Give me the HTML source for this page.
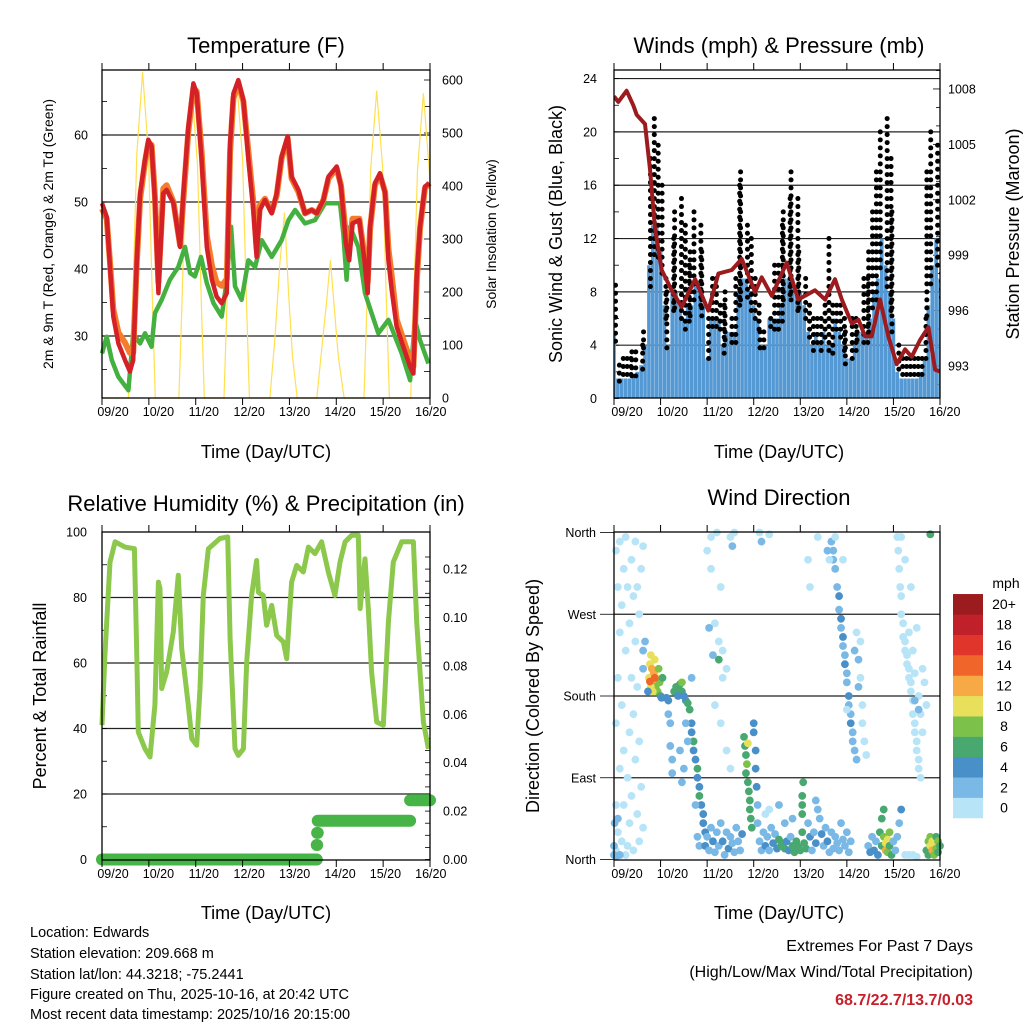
<!DOCTYPE html>
<html><head><meta charset="utf-8"><style>
html,body{margin:0;padding:0;background:#fff;}
svg{display:block;font-family:"Liberation Sans",Arial,sans-serif;}
</style></head><body>
<svg id="c" width="1024" height="1024" viewBox="0 0 1024 1024" xmlns="http://www.w3.org/2000/svg">
<rect width="1024" height="1024" fill="#fff"/>
<g id="p1"></g>
<g id="p2"></g>
<g id="p3"></g>
<g id="p4"></g>
<g id="txt">
<text x="266" y="53" font-size="22" text-anchor="middle">Temperature (F)</text>
<text x="779" y="53" font-size="22" text-anchor="middle">Winds (mph) &amp; Pressure (mb)</text>
<text x="266" y="511" font-size="22" text-anchor="middle">Relative Humidity (%) &amp; Precipitation (in)</text>
<text x="779" y="505" font-size="22" text-anchor="middle">Wind Direction</text>
<text x="266" y="458" font-size="18" text-anchor="middle">Time (Day/UTC)</text>
<text x="779" y="458" font-size="18" text-anchor="middle">Time (Day/UTC)</text>
<text x="266" y="919" font-size="18" text-anchor="middle">Time (Day/UTC)</text>
<text x="779" y="919" font-size="18" text-anchor="middle">Time (Day/UTC)</text>
<text transform="translate(53,234) rotate(-90)" font-size="14" text-anchor="middle">2m &amp; 9m T (Red, Orange) &amp; 2m Td (Green)</text>
<text transform="translate(496,234) rotate(-90)" font-size="14" text-anchor="middle">Solar Insolation (Yellow)</text>
<text transform="translate(562,234) rotate(-90)" font-size="18" text-anchor="middle">Sonic Wind &amp; Gust (Blue, Black)</text>
<text transform="translate(1019,234) rotate(-90)" font-size="18" text-anchor="middle">Station Pressure (Maroon)</text>
<text transform="translate(46,696) rotate(-90)" font-size="18" text-anchor="middle">Percent &amp; Total Rainfall</text>
<text transform="translate(539,696) rotate(-90)" font-size="18" text-anchor="middle">Direction (Colored By Speed)</text>
<text x="30" y="937" font-size="14.5">Location: Edwards</text>
<text x="30" y="958" font-size="14.5">Station elevation: 209.668 m</text>
<text x="30" y="979" font-size="14.5">Station lat/lon: 44.3218; -75.2441</text>
<text x="30" y="999" font-size="14.5">Figure created on Thu, 2025-10-16, at 20:42 UTC</text>
<text x="30" y="1019" font-size="14.5">Most recent data timestamp: 2025/10/16 20:15:00</text>
<text x="973" y="951" font-size="16" text-anchor="end">Extremes For Past 7 Days</text>
<text x="973" y="977" font-size="16" text-anchor="end">(High/Low/Max Wind/Total Precipitation)</text>
<text x="973" y="1005" font-size="16" font-weight="bold" fill="#c8202a" text-anchor="end">68.7/22.7/13.7/0.03</text>
</g>
</svg>
<script>
// ---------- DATA ----------
const dayLabels = ["09/20","10/20","11/20","12/20","13/20","14/20","15/20","16/20"];
const tHours = [0,2.4,4.1,5.8,8.4,11.8,14.3,16,17.8,19.5,22,23.7,25.4,27.1,28.9,31.4,33.1,36.6,40,41.7,44.2,46.8,48.5,51,53.7,56.3,58.7,61.3,63.9,65.6,67.3,69.8,72.4,75,77.5,79.2,80.9,83.5,86.9,89.5,92,95.1,97.1,100.6,104,107.4,110,113.4,116,120.2,122.4,124.9,126.6,128.3,131.8,134.4,136.1,137.3,139.8,142.4,145,146.7,148.4,150.9,154.3,157.8,159.5,161.2,162.9,165.4,167.7];
const temp2m = [49.8,47.8,40.3,32.9,28.9,26.4,24.7,26.4,41.3,51.3,56.3,59.3,58.3,50.3,36.4,51.3,51.8,49.8,43.3,51.3,61.2,67.7,66.2,56.3,43.3,38.4,35.9,34.9,36.4,58.8,66.2,68.2,65.2,56.3,48.8,41.8,48.8,50.3,48.3,51.3,56.8,59.8,53.8,51.8,48.3,48.8,48.3,50.3,53.8,55.3,52.3,43.8,41.3,46.8,47.3,41.3,36.4,46.3,52.8,54.3,51.3,41.3,36.9,31.4,28.4,25.4,24.4,38.9,46.3,52.3,52.8];
const temp9m = [49,47.5,41,34,30.5,29,27.5,27.5,41,50.5,56,58.8,58.5,51,38,52,52.5,50,43.5,50.5,60.5,67,66.5,57.5,45,40.5,38,37.5,38.5,57.5,65.5,67.8,65,57.5,50,43,49.5,50.5,48.5,51,56.5,59.5,53.5,51.5,48.3,48.8,48.3,50.3,53.5,55,52.5,45,43,47.5,47.5,42,38,46,52.5,54,51.5,43,39,32.5,29.5,26.5,25.5,38,46,52,52.8];
const tdHours = [0,2.4,5,8.4,13.5,16,19.5,22,25.4,27.1,30.6,34.8,39.1,42.5,45.1,47.6,50.7,53.7,57.1,61.3,63.9,66.1,68.1,71.5,75,78.4,81.8,86.9,92,95.5,98.9,104,109.1,114.2,121.9,123.6,125.3,127,131.3,134.7,138.1,141.5,146.7,150.1,153.5,157.8,160.3,162.9,167.2];
const dewPoint = [27.4,29.9,26.4,23.9,21.9,30.4,28.9,30.4,28.4,33.4,35.4,38.4,40.3,43.3,39.4,38.9,41.8,37.9,34.9,32.9,38.4,46.3,37.4,35.4,41.3,40.3,44.3,41.8,44.3,47.3,48.8,46.8,47.3,49.8,49.8,45.3,38.4,46.3,43.3,36.4,33.4,30.4,32.4,29.9,27.4,23.4,32.4,29.4,25.9];
const solarHours = [0,13.5,15.8,17.8,20.8,23.8,25.8,27.3,39.4,40.9,42.9,45.9,48.9,50.9,52.4,62.5,64,66,69,72,74,75.5,86,88.5,91,93.5,95.5,97.5,100,110,112.5,115,117,119,121,124,134.2,135.7,137.7,140.7,143.7,145.7,147.2,158.1,159.6,161.6,164.6,167.6,168];
const solar = [0,0,185,460,615,460,185,0,0,175,440,590,440,175,0,0,180,450,600,450,180,0,0,110,250,350,200,80,0,0,90,180,260,170,80,0,0,175,435,580,435,175,0,0,170,430,575,430,400];
const windHours = [0,2,4,6,8,10,12,14,16,18,20,22,24,26,28,30,32,34,36,38,40,42,44,46,48,50,52,54,56,58,60,62,64,66,68,70,72,74,76,78,80,82,84,86,88,90,92,94,96,98,100,102,104,106,108,110,112,114,116,118,120,122,124,126,128,130,132,134,136,138,140,142,144,146,148,150,152,154,156,158,160,162,164,166,168];
const windSpeed = [5,1.5,1.5,1.5,1.5,1.8,2,2.5,4,10,13,13,11,7,4,8,8,7,6,7,7,9,8,7,3,6,6,6,4,5,5,5,8,9,9,8,7,6,4,4,6,6,6,7,9,9,9,8,8,7,5,4,5,4,5,4,4,6,5,4,3,3,4,5,5,5,6,8,9,12,10,8,6,2,1.5,1.5,1.5,1.5,1.5,2,3,7,10,12,9];
const windGust = [8.5,2.5,3,3,3,3.5,3.5,4,5,18,21,19,16,9,8,12,14,15,13,10,11,14,13,11,6,9,9,7,7,8,6,9,16,17,13,12,9,7,5,5,6,10,10,13,14,15,17,15,11,9,7,6,6,6,7,12,7,7,7,6,5,6,6,5,9,9,11,14,17,20,21,18,14,4,3,3,3,3,3,3,6,17,20,19,16];
const presHours = [0,2.2,6.5,10,11.7,16,18.6,21.1,24.6,29.7,34.9,41.8,48.6,53.8,60.7,65.8,72.7,76.1,81.3,89,95,103.6,108.8,113.9,117.4,122.5,126,129.4,132.8,137.1,141.4,145.7,150,153.4,157.7,162,165.5,168];
const pressure = [1007.6,1007.3,1007.9,1007.1,1006.6,1006.1,1003.6,1000.5,998.2,997.1,996.2,997.7,996.0,998.0,998.2,998.8,997.0,997.8,996.8,998.6,996.6,997.1,996.6,997.7,996.6,995.3,995.5,994.6,994.6,996.6,994.6,993.1,993.9,993.5,994.4,995.1,992.8,992.7];
const rhHours = [0,1.5,4.1,6.7,11.8,16.6,17.8,18.6,22,24.6,27.1,28.9,29.7,30.6,33.1,36.5,39.1,40.8,44.2,46,48.5,50.2,51.9,54.5,60.4,64.4,65.6,68.1,69.8,72.4,74.1,76.6,79.2,80.1,82.6,84.3,86.9,89.5,92.9,94.6,97.1,99.7,103.1,105.7,109.1,112.5,115.9,119.3,121.9,124.5,127.9,131.3,132.2,134.7,136.4,138.1,140.7,144.1,146.7,149.2,153.5,159.5,161.2,164.6,167.2];
const rh = [41,62.3,90.8,97,95.4,94.9,62.3,38.9,33.8,31.3,47.1,84.7,82.7,52.2,57.2,69.5,86.8,64.4,47.1,36.9,34.9,52.2,80.6,94.9,98,98.5,67.4,33.8,31.8,33.8,60.3,80.6,91.3,81.6,80.6,71.5,77.6,68.4,66.4,61.3,84.7,89.8,87.8,95.4,93.4,97,87.8,80.6,90.8,97,99,99,76.6,91.8,76.6,57.2,42,41,72.5,90.8,97,97,72.5,42,33.8];
const precipHours = [0,110,110.2,110.5,157.8,168];
const precipTotal = [0,0.006,0.011,0.016,0.0245];
const dirHour = [1,1,1,1,2,2,2,3,3,3,4,4,4,5,5,5,6,6,6,7,7,7,8,8,8,9,9,9,10,10,10,11,11,11,12,12,12,13,13,13,14,14,15,15,15,3,1,2,0,0,0.3,15,15,16,
18,18.5,19,19.5,20,20.5,21,21.5,22,22.5,23,23.5,19,20,21,18.5,24,25,17.5,24.5,
27,28,28,29,29,30,30,31,32,33,34,35,33,35,36,37,38,39,40,40,41,41,42,43,43,44,44,45,46,46,47,38,37,36,35,34,42,40,43,44,
48,50,53,55,50,52,54,56,58,56,52,55,58,60,49,51,54,60,62,61,
47,48,49,50,51,52,53,54,55,56,57,58,59,60,61,62,63,64,65,66,
67,67.5,68,68.5,68,69,69.5,70,70,70.5,71,72,72,73,73,73.5,74,74,69,
75,76,77,78,79,80,81,82,83,84,85,86,87,88,89,90,91,92,93,94,95,96,97,97,97,97.5,97,98,99,100,101,102,103,104,105,106,107,108,109,110,111,112,113,114,115,116,117,118,119,120,121,122,85,88,92,80,78,104,
112,113,113,114,115,116,116,117,117,118,118,119,119,120,120,121,121,122,122,123,123,124,125,126,126,127,127,128,128,129,130,124,125,114,111,110,120,118,
131,132,133,134,135,136,137,138,138,139,139,140,140,141,141,142,142,143,144,145,146,147,148,150,152,154,156,
146,146.5,147,147.5,148,148,149,149,150,150,151,151,152,152,153,153,154,154,155,155,156,156,157,157,158,152,154,155,157,158,159,156,153,150,148,155,157,159,160,161,
161,162,162,163,163,164,164,165,165,166,166,167,167,168,163,75,76,80,105,100,101];
const dirDeg = [10,60,150,340,300,200,30,100,250,350,20,280,170,120,320,60,5,230,355,90,300,15,140,260,40,330,200,70,10,290,160,240,110,350,50,300,190,20,270,130,320,80,210,35,345,5,3,45,5,15,40,210,230,240,
200,215,225,210,195,205,220,190,200,185,210,195,190,185,200,196,180,200,185,178,
178,175,160,150,125,110,95,185,190,188,193,185,180,195,180,175,172,165,150,140,130,120,110,100,90,80,70,60,50,40,30,130,150,100,85,120,60,200,25,15,
340,355,360,300,320,260,240,230,210,200,170,150,120,100,255,225,220,355,360,345,
15,25,10,35,20,8,30,15,40,20,5,30,12,25,18,8,35,20,10,28,
135,125,115,105,95,85,75,65,55,45,35,150,140,120,100,80,60,40,128,
20,10,30,15,25,10,35,18,28,12,22,15,18,12,20,10,25,15,8,20,14,10,30,50,70,85,60,18,12,40,25,10,30,18,55,45,28,15,35,20,8,30,12,25,18,10,40,22,15,30,8,20,60,40,45,55,50,65,
350,340,330,320,300,290,275,265,255,245,235,225,215,205,195,180,170,160,150,140,130,120,110,190,220,240,200,170,150,130,115,230,250,355,330,340,165,330,
15,8,25,10,20,5,30,15,45,55,25,18,10,22,8,30,15,5,20,10,25,40,55,5,5,5,3,
355,340,320,300,290,270,260,245,240,230,225,215,210,200,195,185,175,160,150,140,130,120,110,100,90,250,230,205,180,160,140,255,300,330,355,175,165,210,195,170,
10,20,5,15,25,10,20,5,18,12,25,8,20,15,358,360,350,358,355,330,300];
const dirSpeed = [1,1,1,1,1,1,1,0,1,0,1,1,1,1,0,1,1,1,1,1,0,1,1,1,1,1,1,1,1,1,1,1,1,1,1,1,1,1,1,1,1,1,1,1,1,2,3,2,3,3,3,3,3,3,
10,11,10,12,13,12,10,9,10,8,9,8,10,11,14,15,6,6,4,5,
4,4,3,3,3,2,2,6,6,6,6,7,5,8,4,5,6,6,5,4,6,5,4,6,5,4,6,4,5,4,4,3,3,3,3,3,2,2,3,3,
1,1,1,1,1,1,1,1,1,1,1,1,1,1,3,3,6,1,1,3,
4,3,3,2,4,2,3,3,2,4,2,3,4,2,3,3,3,3,2,4,
7,6,7,8,7,6,7,6,7,6,6,5,4,4,4,4,3,3,10,
3,2,3,4,2,3,3,4,2,5,6,6,7,6,5,4,3,6,7,7,6,6,7,7,6,6,7,7,6,3,4,3,3,5,3,3,4,3,3,4,3,3,3,2,3,2,3,2,3,2,2,2,3,3,3,1,1,3,
3,3,2,3,3,4,3,4,3,4,3,3,4,3,3,4,3,3,4,3,3,2,2,2,2,1,1,1,1,1,1,2,1,1,1,2,1,1,
3,4,3,4,3,5,6,6,7,6,9,11,12,10,9,8,7,6,3,3,2,3,4,1,1,1,1,
1,1,1,1,1,1,1,1,1,1,1,1,1,1,1,1,1,1,1,1,1,1,1,1,1,1,1,1,1,1,1,1,1,1,1,3,2,1,1,1,
6,8,7,10,9,12,11,9,10,8,7,7,9,6,6,1,3,1,1,1,1];
const speedLabels = ["0","2","4","6","8","10","12","14","16","18","20+"];
const speedColors = ["#b8e4f8","#7ab8e6","#4a90c8","#48a870","#7cc24a","#e8e05a","#f6a944","#f0662a","#e0352b","#c0202a","#9b1b1e"];

const NS="http://www.w3.org/2000/svg";
function mk(parent,tag,attrs){const e=document.createElementNS(NS,tag);for(const k in attrs)e.setAttribute(k,attrs[k]);parent.appendChild(e);return e;}
function panelX(x0,x1){return h=>x0+(x1-x0)*h/168;}
function axesFrame(g,x0,x1,y0,y1,labelX0,name){
  const r=mk(g,'rect',{x:x0,y:y0,width:x1-x0,height:y1-y0,fill:'none',stroke:'#000','stroke-width':1.3});
  
  
  for(let i=0;i<=7;i++){
    const x=x0+(x1-x0)*i/7;
    const t1=mk(g,'line',{x1:x,x2:x,y1:y0,y2:y0-7,stroke:'#000','stroke-width':1});
    
    
    const t2=mk(g,'line',{x1:x,x2:x,y1:y1,y2:y1+7,stroke:'#000','stroke-width':1});
    
    
    const lb=mk(g,'text',{x:labelX0+45.4*i,y:y1+18,'font-size':12.5,'text-anchor':'middle'});
    lb.textContent=dayLabels[i];
    
    
  }
}
function grid(g,x0,x1,y,name){
  const l=mk(g,'line',{x1:x0,x2:x1,y1:y,y2:y,stroke:'#222','stroke-width':1.2});
  
  
}
function yTick(g,x,y,len){const l=mk(g,'line',{x1:x,x2:x+len,y1:y,y2:y,stroke:'#000','stroke-width':0.8});
  
  }
function yLabel(g,x,y,txt,anchor){const t=mk(g,'text',{x:x,y:y+4.5,'font-size':12.5,'text-anchor':anchor});t.textContent=txt;
  
  }
function path(xs,ys){return xs.map((x,i)=>(i?'L':'M')+x.toFixed(1)+','+ys[i].toFixed(1)).join('');}

(function(){
  const g=document.getElementById('p1');const X=panelX(102,430);
  const Y=t=>336-(t-30)*6.7, YS=w=>398-w*0.53;
  [30,40,50,60].forEach(v=>{grid(g,102,430,Y(v),'temp-gridline');yLabel(g,88,Y(v),String(v),'end');});
  for(let v=25;v<=65;v+=5)yTick(g,102,Y(v),5);
  for(let v=0;v<=600;v+=50)yTick(g,430,YS(v),-6);
  for(let v=0;v<=600;v+=100)yLabel(g,442,YS(v),String(v),'start');
  const ys=mk(g,'path',{d:path(solarHours.map(X),solar.map(YS)),fill:'none',stroke:'#ffe050','stroke-width':1.2});
  
  
  const gd=mk(g,'path',{d:path(tdHours.map(X),dewPoint.map(Y)),fill:'none',stroke:'#44b040','stroke-width':4.5,'stroke-linejoin':'round'});
  
  
  const o=mk(g,'path',{d:path(tHours.map(X),temp9m.map(Y)),fill:'none',stroke:'#f47c2a','stroke-width':6,'stroke-linejoin':'round'});
  
  
  const r=mk(g,'path',{d:path(tHours.map(X),temp2m.map(Y)),fill:'none',stroke:'#d42027','stroke-width':4.5,'stroke-linejoin':'round'});
  
  
  axesFrame(g,102,430,70,398,113,'temp');
})();

(function(){
  const g=document.getElementById('p2');const X=panelX(614,940);
  const Y=w=>398.5-w*13.33, YP=p=>366-(p-993)*18.47;
  const cw=mk(g,'clipPath',{id:'cw'});mk(cw,'rect',{x:614,y:70,width:326,height:329});
  [4,8,12,16,20,24].forEach(v=>grid(g,614,940,Y(v),'wind-gridline'));
  for(let v=0;v<=24;v+=4)yLabel(g,597,Y(v),String(v),'end');
  for(let v=0;v<=24;v+=2)yTick(g,614,Y(v),5);
  for(let p=992;p<=1009;p++)yTick(g,940,YP(p),p%3===0?-7:-4);
  [993,996,999,1002,1005,1008].forEach(p=>yLabel(g,948,YP(p),String(p),'start'));
  const inner=mk(g,'g',{'clip-path':'url(#cw)'});
  
  
  windHours.forEach((h,i)=>{
    const b=mk(inner,'line',{x1:X(h),x2:X(h),y1:Y(0),y2:Y(windSpeed[i]),stroke:'#5499d4','stroke-width':3.6});
    
    
  });
  windHours.forEach((h,i)=>{
    const top=Y(windGust[i]), bot=Y(windSpeed[i]*0.8);
    for(let y=top;y<=bot;y+=8){
      const d=mk(inner,'circle',{cx:X(h)+((Math.round(y)%2)?1.5:-1.5),cy:y,r:2.5,fill:'#000'});
      
      
    }
  });
  const p=mk(inner,'path',{d:path(presHours.map(X),pressure.map(YP)),fill:'none',stroke:'#9b1b1e','stroke-width':4,'stroke-linejoin':'round'});
  
  
  axesFrame(g,614,940,70,398,627,'wind');
})();

(function(){
  const g=document.getElementById('p3');const X=panelX(102,430);
  const Y=v=>859.5-v*3.275, YR=p=>859.5-p*2420;
  [20,40,60,80].forEach(v=>grid(g,102,430,Y(v),'rh-gridline'));
  for(let v=0;v<=100;v+=20)yLabel(g,87,Y(v),String(v),'end');
  for(let v=0;v<=100;v+=10)yTick(g,102,Y(v),5);
  for(let v=0;v<=0.13;v+=0.005)yTick(g,430,YR(v),-5);
  for(let k=0;k<=6;k++)yLabel(g,443,YR(k*0.02),(k*0.02).toFixed(2),'start');
  const l=mk(g,'path',{d:path(rhHours.map(X),rh.map(Y)),fill:'none',stroke:'#8cc84b','stroke-width':5,'stroke-linejoin':'round'});
  
  
  precipTotal.forEach((v,i)=>{
    const s=mk(g,'line',{x1:X(precipHours[i]),x2:X(precipHours[i+1]),y1:YR(v),y2:YR(v),stroke:'#46b446','stroke-width':12,'stroke-linecap':'round'});
    
    
  });
  axesFrame(g,102,430,532,860,113,'rh');
})();

(function(){
  const g=document.getElementById('p4');const X=panelX(614,940);
  const Y=d=>859.5-d*327/360;
  const names=["North","East","South","West","North"];
  [90,180,270].forEach(v=>grid(g,614,940,Y(v),'dir-gridline'));
  names.forEach((n,i)=>{yLabel(g,596,Y(i*90),n,'end');yTick(g,600,Y(i*90),14);});
  dirHour.forEach((h,i)=>{
    const bin=Math.min(10,Math.floor(dirSpeed[i]/2));
    const c=mk(g,'circle',{cx:X(h),cy:Y(dirDeg[i]),r:3.9,fill:speedColors[bin]});
    
    
  });
  axesFrame(g,614,940,532,860,627,'dir');
  const cb=mk(g,'g',{});
  
  
  const t=mk(cb,'text',{x:1006,y:588,'font-size':14,'text-anchor':'middle'});t.textContent='mph';
  
  
  speedLabels.forEach((lab,i)=>{
    const y=818-(i+1)*20.36;
    const r=mk(cb,'rect',{x:953,y:y,width:30,height:20.6,fill:speedColors[i]});
    
    
    const tx=mk(cb,'text',{x:1004,y:y+15,'font-size':14,'text-anchor':'middle'});tx.textContent=lab;
    
    
  });
})();
</script>
</body></html>
